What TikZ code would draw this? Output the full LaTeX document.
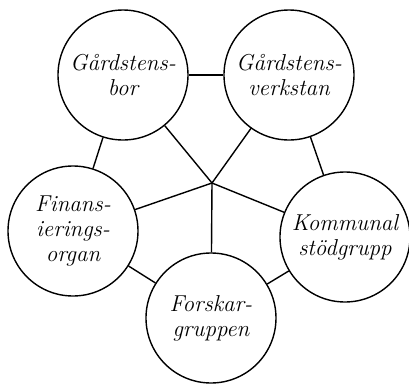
\documentclass[tikz,border=0pt]{standalone}
\usepackage{tikz}

\begin{document}
\begin{tikzpicture}[x=0.5pt, y=-0.5pt,
		group/.style={draw, circle, line width=0.7pt, minimum size=65pt, inner sep=0pt,
			align=center, font=\fontsize{11.5}{12.5}\selectfont\itshape},
		link/.style={line width=0.7pt}]
		%fix page size
		\useasboundingbox (0,0) rectangle (409,387);
		%draw groups
		\node[group] (bor) at (123,75) {G\aa rdstens-\\bor};
		\node[group] (verkstan) at (289,75) {G\aa rdstens-\\verkstan};
		\node[group] (finans) at (73,231) {Finans-\\ierings-\\organ};
		\node[group] (kommunal) at (345,237) {Kommunal\\st\"odgrupp};
		\node[group] (forskar) at (211,318) {Forskar-\\gruppen};
		\coordinate (hub) at (212,183);
		%draw ring
		\draw[link] (bor) -- (verkstan);
		\draw[link] (verkstan) -- (kommunal);
		\draw[link] (kommunal) -- (forskar);
		\draw[link] (forskar) -- (finans);
		\draw[link] (finans) -- (bor);
		%draw spokes
		\foreach \n in {bor,verkstan,finans,kommunal,forskar}
			\draw[link] (hub) -- (\n);
	\end{tikzpicture}
\end{document}
